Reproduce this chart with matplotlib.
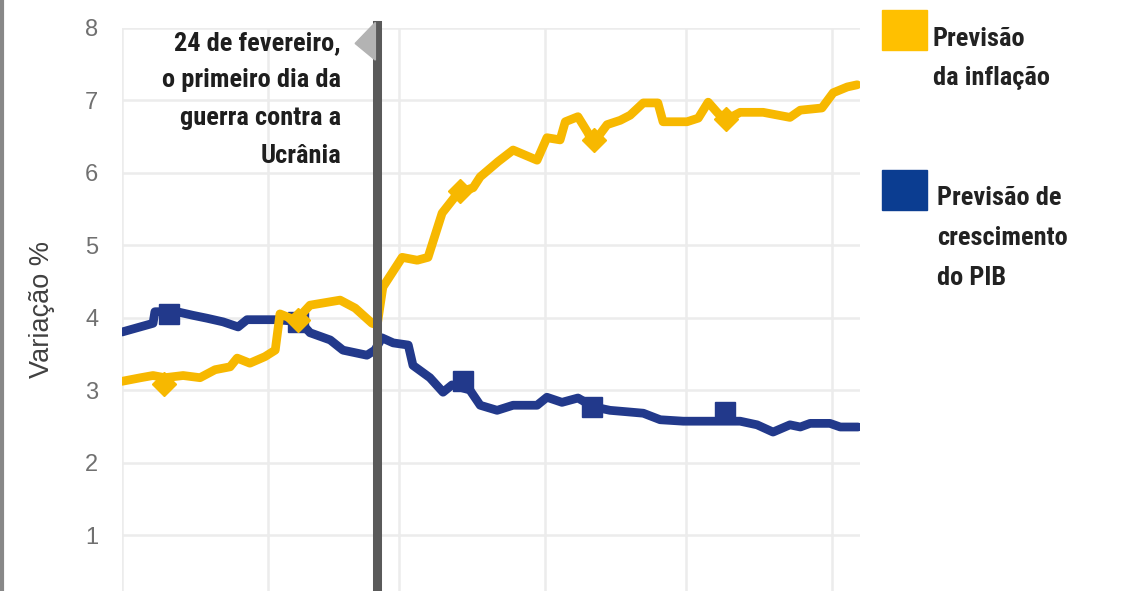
import matplotlib
matplotlib.use("Agg")
import matplotlib.pyplot as plt
from matplotlib import font_manager
from matplotlib.patches import Rectangle, Polygon
from matplotlib.lines import Line2D

# days counted from 1 January
month_start_days = [0, 31, 59, 90, 120, 151]
war_day = 54.3
y_ticks = [1, 2, 3, 4, 5, 6, 7, 8]

infl_days = [0, 4, 6.6, 9.1, 13, 16.6, 19.8, 23, 24.5, 27.2, 30.4, 32.6, 33.6, 37, 40,
             46.4, 49.6, 53.2, 54.3, 55.5, 59.6, 62.8, 65.1, 68.1, 71.5, 74.7, 76.2, 80,
             83.2, 88.3, 90.4, 93.2, 94.3, 97, 99.1, 100.2, 103.2, 106, 108.1, 110.9,
             114.0, 115.1, 120.2, 122.6, 124.7, 126.6, 128.3, 131.5, 136.4, 142.1,
             144.3, 148.9, 151.3, 154.3, 156.4]
infl_vals = [3.12, 3.17, 3.20, 3.17, 3.20, 3.17, 3.28, 3.32, 3.44, 3.37, 3.46, 3.55, 4.05,
             3.96, 4.17, 4.24, 4.13, 3.92, 3.90, 4.42, 4.83, 4.79, 4.83, 5.44, 5.72, 5.79,
             5.94, 6.15, 6.31, 6.17, 6.48, 6.45, 6.70, 6.77, 6.55, 6.40, 6.66, 6.72, 6.79,
             6.96, 6.96, 6.70, 6.70, 6.75, 6.97, 6.83, 6.72, 6.83, 6.83, 6.76, 6.86, 6.89,
             7.10, 7.18, 7.21]

gdp_days = [0, 6.6, 7.0, 11.7, 15.1, 18.1, 21.5, 24.7, 26.6, 33, 37.9, 40, 44.3, 47,
            52.1, 53.8, 55.3, 57.7, 60.9, 61.9, 65.5, 68.3, 70.2, 74, 76.2, 79.8, 83.2,
            88.3, 90.4, 93.6, 97, 100.2, 103.8, 107.4, 110.9, 114.5, 119.4, 125.7, 131.5,
            135.1, 138.5, 142.1, 144.3, 146.4, 150.6, 152.8, 156.6]
gdp_vals = [3.80, 3.92, 4.08, 4.08, 4.03, 3.99, 3.94, 3.87, 3.97, 3.97, 3.94, 3.79, 3.69,
            3.55, 3.48, 3.55, 3.72, 3.65, 3.62, 3.34, 3.17, 2.97, 3.07, 3.00, 2.79, 2.72,
            2.79, 2.79, 2.90, 2.83, 2.89, 2.77, 2.72, 2.70, 2.68, 2.59, 2.57, 2.57, 2.57,
            2.52, 2.42, 2.52, 2.49, 2.54, 2.54, 2.49, 2.49]

infl_mark_days = [9, 37.5, 72, 100.5, 128.5]
infl_mark_vals = [3.08, 3.96, 5.74, 6.45, 6.74]
gdp_mark_days = [9.9, 37.5, 72.5, 100, 128.3]
gdp_mark_vals = [4.05, 3.94, 3.12, 2.76, 2.70]

note_lines = ["24 de fevereiro,", "o primeiro dia da", "guerra contra a", "Ucrânia"]
ylabel = "Variação %"
legend_infl = ["Previsão", "da inflação"]
legend_gdp = ["Previsão de", "crescimento", "do PIB"]

YELLOW = "#F7B800"
BLUE = "#22398B"


def pick_font(cands):
    names = {f.name for f in font_manager.fontManager.ttflist}
    for c in cands:
        if c in names:
            return c
    return "DejaVu Sans"


narrow = pick_font(["Liberation Sans Narrow", "Roboto Condensed", "Open Sans Condensed",
                    "DejaVu Sans Condensed", "Noto Sans Condensed"])
plain = pick_font(["Liberation Sans", "DejaVu Sans"])

W, H = 1128, 591
fig = plt.figure(figsize=(W / 100, H / 100), dpi=100)
ax = fig.add_axes([122 / W, 0, (860 - 122) / W, 1 - 27.5 / H])

ax.plot(gdp_days, gdp_vals, color=BLUE, lw=6.3, solid_joinstyle="round",
        solid_capstyle="round", zorder=3)
ax.plot(gdp_mark_days, gdp_mark_vals, ls="none", marker="s", ms=14, color=BLUE, zorder=3)
ax.plot(infl_days, infl_vals, color=YELLOW, lw=6.3, solid_joinstyle="round",
        solid_capstyle="round", zorder=4)
ax.plot(infl_mark_days, infl_mark_vals, ls="none", marker="D", ms=12, color=YELLOW, zorder=4)

ax.set_xlim(0, 157)
ax.set_ylim(0.228, 8.0)
ax.set_xticks(month_start_days)
ax.set_xticklabels([])
ax.set_yticks(y_ticks)
ax.set_yticklabels([str(t) for t in y_ticks], fontsize=17, color="#707070", family=plain)
ax.tick_params(length=0, pad=17)
ax.grid(True, color="#ececec", lw=1.8)
ax.set_axisbelow(True)
for s in ax.spines.values():
    s.set_visible(False)

ax.set_ylabel(ylabel, fontsize=19.5, color="#404040", family=plain, labelpad=22)

# war marker line with flag
ax.axvline(war_day, ymin=0, ymax=1.005, color="#5a5a5a", lw=6.5, zorder=6, clip_on=False)
tri = Polygon([(war_day - 4.7, 7.78), (war_day - 0.4, 8.07), (war_day - 0.4, 7.55)],
              closed=True, color="#b3b3b3", zorder=6, clip_on=False)
ax.add_patch(tri)

note_y = [7.79, 7.27, 6.75, 6.23]
for txt, yy in zip(note_lines, note_y):
    ax.text(46.6, yy, txt, ha="right", va="center", fontsize=19, fontweight="bold",
            family=narrow, color="#1e1e1e", zorder=7)

# custom legend on the right
fig.add_artist(Rectangle((882 / W, 1 - 50 / H), 45 / W, 40 / H, color="#FFC000",
                         transform=fig.transFigure))
fig.add_artist(Rectangle((882 / W, 1 - 210 / H), 45 / W, 40 / H, color="#0B3D91",
                         transform=fig.transFigure))
for i, txt in enumerate(legend_infl):
    fig.text(933 / W, 1 - (39 + 39 * i) / H, txt, ha="left", va="center", fontsize=19,
             fontweight="bold", family=narrow, color="#222222")
for i, txt in enumerate(legend_gdp):
    fig.text(937 / W, 1 - (198 + 40 * i) / H, txt, ha="left", va="center", fontsize=19,
             fontweight="bold", family=narrow, color="#222222")

# gray frame edge on the left
fig.add_artist(Line2D([2 / W, 2 / W], [0, 1], color="#888888", lw=3,
                      transform=fig.transFigure))

fig.savefig("out.png", dpi=100)
